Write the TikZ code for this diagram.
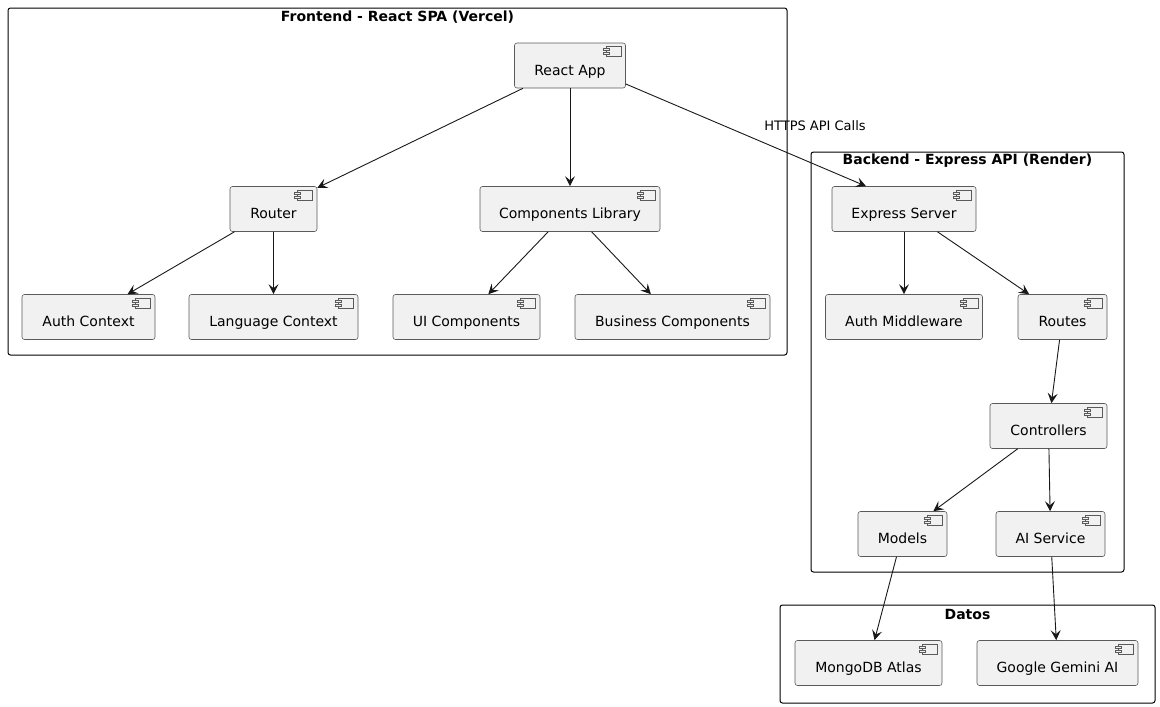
\documentclass[tikz,border=0pt]{standalone}
\usepackage{fontspec}
\setmainfont{DejaVu Sans}
\usetikzlibrary{arrows.meta, positioning}

\definecolor{compfill}{HTML}{F1F1F1}
\definecolor{compline}{HTML}{5A5A5A}
\definecolor{edgeline}{HTML}{181818}

\tikzset{
  comp/.style={draw=compline, fill=compfill, line width=0.6pt, rounded corners=2.5pt,
    inner sep=0pt, text height=32pt, text depth=13pt, font=\fontsize{14}{16}\selectfont},
  pkg/.style={draw=black, line width=1pt, rounded corners=2.5pt},
  pkgtitle/.style={font=\fontsize{14}{16}\selectfont\bfseries, inner sep=0pt},
  link/.style={draw=edgeline, line width=0.9pt, -{Stealth[length=10pt, width=10pt, inset=4pt]}},
}

\begin{document}
\begin{tikzpicture}[x=1pt, y=-1pt]
  \useasboundingbox (0,0) rectangle (1160,707);

  % packages
  \draw[pkg] (8,8) rectangle (787,355);
  \node[pkgtitle] (fronttitle) at (397.5,17) {Frontend - React SPA (Vercel)};
  \draw[pkg] (811,152) rectangle (1124,572);
  \node[pkgtitle] (backtitle) at (967.5,161) {Backend - Express API (Render)};
  \draw[pkg] (780,605) rectangle (1155,703);
  \node[pkgtitle] (datatitle) at (967.5,614) {Datos};

  % frontend components
  \node[comp, minimum width=111pt] (reactapp) at (570,65.5) {React App};
  \node[comp, minimum width=87pt] (router) at (273.5,209) {Router};
  \node[comp, minimum width=180pt] (complib) at (570,209) {Components Library};
  \node[comp, minimum width=133pt] (authctx) at (88.5,317) {Auth Context};
  \node[comp, minimum width=169pt] (langctx) at (273.5,317) {Language Context};
  \node[comp, minimum width=147pt] (uicomp) at (466.5,317) {UI Components};
  \node[comp, minimum width=195pt] (buscomp) at (672.5,317) {Business Components};

  % backend components
  \node[comp, minimum width=144pt] (express) at (904,209) {Express Server};
  \node[comp, minimum width=157pt] (authmw) at (904,317) {Auth Middleware};
  \node[comp, minimum width=89pt] (routes) at (1062.5,317) {Routes};
  \node[comp, minimum width=117pt] (controllers) at (1048.5,426) {Controllers};
  \node[comp, minimum width=89pt] (models) at (902.5,534) {Models};
  \node[comp, minimum width=109pt] (aiservice) at (1050.5,534) {AI Service};

  % data
  \node[comp, minimum width=147pt] (mongo) at (868.5,663) {MongoDB Atlas};
  \node[comp, minimum width=161pt] (gemini) at (1057.5,663) {Google Gemini AI};

  % component icons
  \foreach \n in {reactapp, router, complib, authctx, langctx, uicomp, buscomp,
                  express, authmw, routes, controllers, models, aiservice, mongo, gemini} {
    \begin{scope}[shift={(\n.north east)}, draw=compline, line width=0.5pt]
      \draw[fill=compfill] (-20,4) rectangle (-5,14);
      \draw[fill=compfill] (-23,6) rectangle (-17,8);
      \draw[fill=compfill] (-23,10) rectangle (-17,12);
    \end{scope}
  }

  % connectors
  \draw[link] (reactapp) -- (router);
  \draw[link] (reactapp) -- (complib);
  \draw[link] (reactapp.east |- 0,84) -- ([xshift=-38pt]express.north);
  \node[font=\fontsize{13}{15}\selectfont, inner sep=0pt] (httpslabel) at (815,126) {HTTPS API Calls};
  \draw[link] (router) -- (authctx);
  \draw[link] (router) -- (langctx);
  \draw[link] (complib) -- (uicomp);
  \draw[link] (complib) -- (buscomp);
  \draw[link] (express) -- (authmw);
  \draw[link] (express) -- (routes);
  \draw[link] (routes) -- (controllers);
  \draw[link] (controllers) -- (models);
  \draw[link] (controllers) -- (aiservice);
  \draw[link] (models) -- (mongo);
  \draw[link] (aiservice) -- (gemini);
\end{tikzpicture}
\end{document}
